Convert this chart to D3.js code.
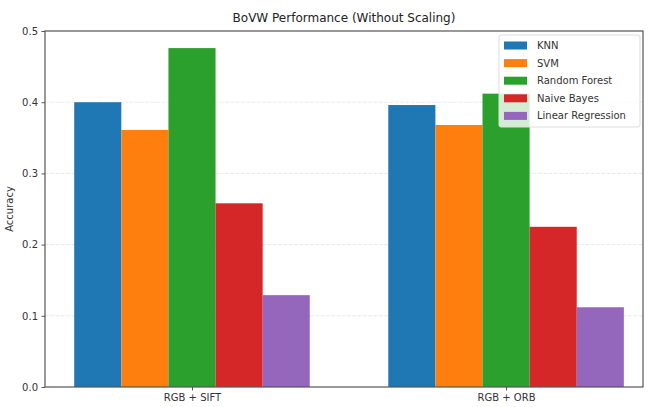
<!DOCTYPE html>
<html><head><meta charset="utf-8">
<script src="https://cdn.jsdelivr.net/npm/d3@7"></script>
<style>body{margin:0;background:#fff}text{font-family:"DejaVu Sans",sans-serif}</style>
</head><body><svg id="c" width="650" height="407"></svg>
<script>
const categories = ["RGB + SIFT", "RGB + ORB"];
const models = ["KNN", "SVM", "Random Forest", "Naive Bayes", "Linear Regression"];
const knn = [0.400, 0.396];
const svm = [0.361, 0.368];
const rf = [0.476, 0.412];
const nb = [0.258, 0.225];
const lr = [0.129, 0.112];
const yTicks = [0.0, 0.1, 0.2, 0.3, 0.4, 0.5];
const colors = ["#1f77b4", "#ff7f0e", "#2ca02c", "#d62728", "#9467bd"];
const series = [knn, svm, rf, nb, lr];

const svg = d3.select("#c");
const L = 45, R = 643, T = 31, B = 387;
const barW = 0.15;
const x = d3.scaleLinear().domain([-0.468, 1.436]).range([L, R]);
const y = d3.scaleLinear().domain([0, 0.5]).range([B, T]);

// grid
svg.append("g").selectAll("line").data(yTicks.slice(1, -1)).join("line")
  .attr("x1", L).attr("x2", R).attr("y1", d => y(d)).attr("y2", d => y(d))
  .attr("stroke", "#b0b0b0").attr("stroke-opacity", 0.35).attr("stroke-dasharray", "3.7,1.6").attr("stroke-width", 0.8);

// bars
series.forEach((vals, i) => {
  svg.append("g").selectAll("rect").data(vals).join("rect")
    .attr("x", (d, j) => x(j + (i - 2) * barW - barW / 2))
    .attr("width", (d, j) => x(j + (i - 2) * barW + barW / 2) - x(j + (i - 2) * barW - barW / 2))
    .attr("y", d => y(d)).attr("height", d => y(0) - y(d))
    .attr("fill", colors[i]);
});

// axes
const yAxis = d3.axisLeft(y).tickValues(yTicks).tickFormat(d3.format(".1f")).tickSize(3.5).tickPadding(3.5);
const gy = svg.append("g").attr("transform", `translate(${L},0)`).call(yAxis);
gy.select(".domain").remove();
gy.selectAll("text").attr("font-size", 10).attr("fill", "#333");
gy.selectAll("line").attr("stroke", "#555");

const xAxis = d3.axisBottom(x).tickValues([0, 1]).tickFormat(i => categories[i]).tickSize(3.5).tickPadding(3.5);
const gx = svg.append("g").attr("transform", `translate(0,${B})`).call(xAxis);
gx.select(".domain").remove();
gx.selectAll("text").attr("font-size", 10).attr("fill", "#333");
gx.selectAll("line").attr("stroke", "#555");

// frame
svg.append("rect").attr("x", L).attr("y", T).attr("width", R - L).attr("height", B - T)
  .attr("fill", "none").attr("stroke", "#555").attr("stroke-width", 1.2);

// labels
svg.append("text").attr("x", (L + R) / 2).attr("y", 22).attr("text-anchor", "middle")
  .attr("font-size", 12).attr("fill", "#222").text("BoVW Performance (Without Scaling)");
svg.append("text").attr("transform", `translate(13,${(T + B) / 2}) rotate(-90)`).attr("text-anchor", "middle")
  .attr("font-size", 10).attr("fill", "#333").text("Accuracy");

// legend
const lg = svg.append("g").attr("transform", "translate(499,35)");
lg.append("rect").attr("width", 141).attr("height", 92).attr("rx", 2)
  .attr("fill", "#fff").attr("fill-opacity", 0.8).attr("stroke", "#ddd");
models.forEach((m, i) => {
  const g = lg.append("g").attr("transform", `translate(5,${10 + i * 17.6})`);
  g.append("rect").attr("y", -3.5).attr("width", 23).attr("height", 8).attr("fill", colors[i]);
  g.append("text").attr("x", 33).attr("y", 4).attr("font-size", 10).attr("fill", "#333").text(m);
});
</script></body></html>
